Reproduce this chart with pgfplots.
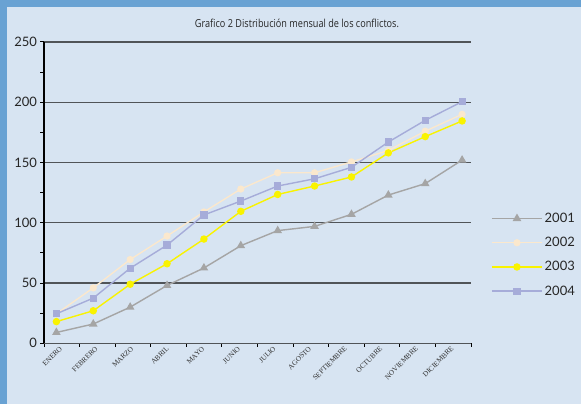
\documentclass[border=0pt]{standalone}
\usepackage{pgfplots}
\pgfplotsset{compat=1.18}
\usepackage{fontspec}
\setmainfont{Lato}
\newfontfamily\titlefont[FakeStretch=0.83]{Open Sans}
\newfontfamily\monthfont{Liberation Serif}
\definecolor{frame}{HTML}{69A2D3}
\definecolor{panel}{HTML}{D7E4F2}
\definecolor{c2001}{HTML}{A5A5A5}
\definecolor{c2002}{HTML}{FBE8CD}
\definecolor{c2003}{HTML}{F9F300}
\definecolor{c2004}{HTML}{A6ACD9}
\definecolor{gridc}{HTML}{505458}

\begin{document}
\begin{tikzpicture}
\fill[frame] (0pt,0pt) rectangle (581pt,404pt);
\fill[panel] (7pt,0pt) rectangle (581pt,397pt);
\useasboundingbox (0pt,0pt) rectangle (581pt,404pt);
\node[font=\titlefont\fontsize{11}{13}\selectfont, text=black!85] at (297pt,380.7pt)
  {Grafico 2 Distribución mensual de los conflictos.};
\begin{axis}[
    at={(44pt,60.7pt)}, anchor=south west,
    scale only axis, width=427pt, height=301.3pt,
    xmin=-0.336, xmax=11.241, ymin=0, ymax=250,
    axis lines*=left,
    x axis line style={gridc, line width=1.4pt},
    y axis line style={black, line width=1.4pt},
    ytick={0,50,...,250},
    minor ytick={25,75,...,225},
    ymajorgrids,
    grid style={gridc, line width=1.3pt},
    tick align=outside,
    major tick length=3.5pt, minor tick length=3.5pt,
    every tick/.style={black, line width=1pt},
    xtick={0.146,1.111,2.076,3.040,4.005,4.970,5.935,6.900,7.864,8.829,9.794,10.759},
    xticklabels={ENERO,FEBRERO,MARZO,ABRIL,MAYO,JUNIO,JULIO,AGOSTO,SEPTIEMBRE,OCTUBRE,NOVIEMBRE,DICIEMBRE},
    every major x tick/.append style={draw=none},
    minor xtick={-0.336,0.629,1.594,2.558,3.523,4.488,5.453,6.418,7.382,8.347,9.312,10.277,11.241},
    xticklabel style={rotate=45, anchor=east, inner sep=1pt, font=\monthfont\fontsize{7.3}{8}\selectfont, text=black!80},
    yticklabel style={font=\fontsize{13}{15}\selectfont, text=black!85},
    /pgf/number format/assume math mode=true,
    legend style={at={(1.047,0.4395)}, anchor=north west, draw=none, fill=none,
      font=\fontsize{13}{15}\selectfont, text=black!85, row sep=9.3pt,
      inner sep=0pt, nodes={inner sep=2pt}},
    legend cell align=left,
    legend image code/.code={\draw[mark repeat=2,mark phase=2] plot coordinates {(0pt,0pt) (25pt,0pt) (50pt,0pt)};},
]
\addplot[c2001, line width=1.4pt, mark=triangle*, mark size=3.6pt] coordinates {
  (0,9) (1,16) (2,30) (3,48) (4,62.5) (5,81) (6,93.5) (7,97) (8,107) (9,123) (10,132.5) (11,152)};
\addplot[c2002, line width=1.4pt, mark=*, mark size=2.9pt] coordinates {
  (0,24.5) (1,46) (2,69.5) (3,89) (4,109) (5,128) (6,141.5) (7,141.5) (8,150.5) (9,160) (10,176) (11,190)};
\addplot[c2003, line width=1.4pt, mark=*, mark size=3pt] coordinates {
  (0,18) (1,27) (2,49) (3,66) (4,86.5) (5,109.5) (6,123.5) (7,130.5) (8,138) (9,158) (10,171.5) (11,184.5)};
\addplot[c2004, line width=1.4pt, mark=square*, mark size=2.9pt] coordinates {
  (0,24.5) (1,37.5) (2,62.3) (3,81.5) (4,106.5) (5,118) (6,130.5) (7,136.5) (8,146) (9,167) (10,185) (11,200.5)};
\legend{2001,2002,2003,2004}
\end{axis}
\end{tikzpicture}
\end{document}
